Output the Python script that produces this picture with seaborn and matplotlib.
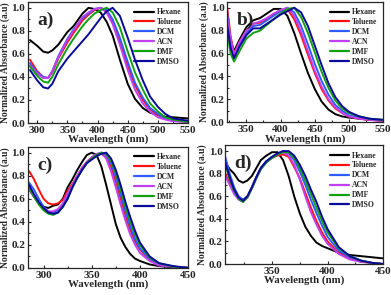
import pandas as pd
import seaborn as sns
import matplotlib.pyplot as plt
from matplotlib.ticker import MultipleLocator

solvents = ['Hexane', 'Toluene', 'DCM', 'ACN', 'DMF', 'DMSO']
colors = ['#000000', '#ff1010', '#2f5cff', '#c040f0', '#10a010', '#0a0a9a']

# panel a
wl_a = [288, 300, 310, 318, 325, 335, 350, 360, 375, 385, 395, 405, 415, 425, 437, 450, 462, 475, 487, 500, 512, 525, 550]
hexane_a = [0.72, 0.67, 0.62, 0.61, 0.63, 0.68, 0.79, 0.84, 0.95, 1.0, 0.99, 0.96, 0.88, 0.76, 0.55, 0.34, 0.21, 0.13, 0.09, 0.07, 0.055, 0.05, 0.04]
toluene_a = [0.55, 0.45, 0.40, 0.39, 0.44, 0.56, 0.70, 0.78, 0.89, 0.94, 0.98, 1.0, 0.97, 0.88, 0.71, 0.50, 0.33, 0.20, 0.12, 0.07, 0.04, 0.02, 0.01]
dcm_a = [0.52, 0.44, 0.40, 0.39, 0.45, 0.58, 0.73, 0.81, 0.91, 0.95, 0.99, 1.0, 0.98, 0.90, 0.74, 0.53, 0.35, 0.22, 0.13, 0.08, 0.04, 0.025, 0.01]
acn_a = [0.50, 0.43, 0.39, 0.39, 0.45, 0.57, 0.72, 0.80, 0.92, 0.96, 0.99, 1.0, 0.96, 0.86, 0.68, 0.46, 0.29, 0.17, 0.10, 0.05, 0.03, 0.015, 0.01]
dmf_a = [0.49, 0.41, 0.36, 0.35, 0.40, 0.51, 0.65, 0.73, 0.84, 0.90, 0.95, 0.98, 1.0, 0.96, 0.83, 0.62, 0.44, 0.29, 0.17, 0.10, 0.05, 0.03, 0.01]
dmso_a = [0.46, 0.37, 0.31, 0.30, 0.34, 0.45, 0.56, 0.62, 0.71, 0.77, 0.84, 0.91, 0.97, 1.0, 0.93, 0.74, 0.55, 0.37, 0.23, 0.14, 0.08, 0.04, 0.02]

# panel b
wl_b = [322, 327, 332, 340, 350, 360, 370, 380, 390, 400, 410, 420, 430, 440, 450, 460, 470, 480, 490, 500, 515, 530, 550]
hexane_b = [0.90, 0.72, 0.62, 0.72, 0.83, 0.89, 0.91, 0.95, 0.99, 0.99, 0.93, 0.78, 0.60, 0.43, 0.29, 0.18, 0.11, 0.07, 0.05, 0.04, 0.03, 0.02, 0.015]
toluene_b = [1.0, 0.75, 0.60, 0.70, 0.80, 0.86, 0.87, 0.90, 0.94, 0.98, 0.99, 0.90, 0.76, 0.59, 0.43, 0.29, 0.19, 0.12, 0.08, 0.05, 0.03, 0.02, 0.01]
dcm_b = [0.95, 0.72, 0.58, 0.68, 0.78, 0.84, 0.85, 0.89, 0.93, 0.97, 1.0, 0.96, 0.84, 0.68, 0.51, 0.36, 0.24, 0.15, 0.10, 0.06, 0.04, 0.025, 0.015]
acn_b = [0.92, 0.73, 0.59, 0.70, 0.80, 0.86, 0.88, 0.91, 0.95, 0.98, 1.0, 0.93, 0.79, 0.62, 0.45, 0.31, 0.20, 0.13, 0.08, 0.05, 0.03, 0.02, 0.01]
dmf_b = [0.80, 0.60, 0.53, 0.62, 0.73, 0.78, 0.80, 0.85, 0.90, 0.95, 0.99, 1.0, 0.92, 0.78, 0.61, 0.44, 0.30, 0.19, 0.12, 0.08, 0.05, 0.03, 0.02]
dmso_b = [0.85, 0.65, 0.56, 0.66, 0.76, 0.82, 0.82, 0.86, 0.90, 0.94, 0.97, 1.0, 0.96, 0.84, 0.67, 0.50, 0.34, 0.22, 0.14, 0.09, 0.05, 0.03, 0.02]

# panel c
wl_c = [285, 290, 295, 300, 305, 310, 315, 320, 325, 330, 335, 340, 345, 350, 355, 360, 365, 370, 375, 380, 385, 390, 395, 400, 410, 420, 435, 450]
hexane_c = [0.68, 0.62, 0.56, 0.53, 0.52, 0.54, 0.55, 0.60, 0.70, 0.77, 0.85, 0.92, 0.98, 1.0, 0.98, 0.88, 0.72, 0.55, 0.38, 0.26, 0.18, 0.12, 0.08, 0.06, 0.03, 0.015, 0.005, 0.0]
toluene_c = [0.84, 0.77, 0.68, 0.60, 0.56, 0.55, 0.56, 0.59, 0.67, 0.73, 0.80, 0.87, 0.92, 0.96, 0.98, 0.99, 0.96, 0.88, 0.75, 0.60, 0.45, 0.33, 0.23, 0.16, 0.07, 0.03, 0.01, 0.0]
dcm_c = [0.74, 0.68, 0.60, 0.53, 0.49, 0.48, 0.50, 0.55, 0.62, 0.71, 0.79, 0.86, 0.92, 0.95, 0.98, 1.0, 0.98, 0.91, 0.79, 0.64, 0.49, 0.36, 0.25, 0.17, 0.08, 0.03, 0.01, 0.0]
acn_c = [0.68, 0.62, 0.56, 0.52, 0.49, 0.49, 0.51, 0.56, 0.65, 0.72, 0.80, 0.87, 0.92, 0.96, 0.99, 1.0, 0.95, 0.84, 0.70, 0.55, 0.41, 0.29, 0.20, 0.13, 0.06, 0.02, 0.01, 0.0]
dmf_c = [0.70, 0.62, 0.55, 0.50, 0.47, 0.46, 0.48, 0.53, 0.60, 0.70, 0.78, 0.85, 0.91, 0.95, 0.98, 1.0, 0.99, 0.93, 0.82, 0.68, 0.53, 0.40, 0.29, 0.20, 0.09, 0.04, 0.01, 0.0]
dmso_c = [0.72, 0.64, 0.57, 0.52, 0.48, 0.47, 0.48, 0.53, 0.60, 0.70, 0.78, 0.85, 0.91, 0.94, 0.97, 0.99, 1.0, 0.95, 0.85, 0.72, 0.57, 0.44, 0.32, 0.22, 0.10, 0.04, 0.015, 0.0]

# panel d
wl_d = [308, 312, 316, 320, 324, 328, 332, 336, 340, 345, 350, 355, 360, 365, 370, 375, 380, 385, 390, 395, 400, 410, 420, 430, 440, 450]
hexane_d = [0.90, 0.84, 0.80, 0.74, 0.72, 0.74, 0.78, 0.85, 0.92, 0.96, 0.99, 0.99, 0.92, 0.78, 0.60, 0.45, 0.33, 0.25, 0.19, 0.16, 0.14, 0.10, 0.08, 0.07, 0.06, 0.05]
toluene_d = [0.80, 0.72, 0.64, 0.58, 0.56, 0.60, 0.68, 0.77, 0.85, 0.91, 0.94, 0.96, 0.97, 0.95, 0.86, 0.76, 0.63, 0.50, 0.38, 0.28, 0.20, 0.10, 0.05, 0.02, 0.01, 0.0]
dcm_d = [0.95, 0.80, 0.68, 0.60, 0.57, 0.60, 0.68, 0.77, 0.85, 0.91, 0.94, 0.97, 1.0, 0.98, 0.92, 0.82, 0.70, 0.57, 0.45, 0.34, 0.24, 0.12, 0.06, 0.03, 0.01, 0.0]
acn_d = [0.78, 0.70, 0.62, 0.57, 0.55, 0.59, 0.67, 0.76, 0.84, 0.90, 0.94, 0.97, 0.99, 0.96, 0.88, 0.75, 0.60, 0.46, 0.35, 0.25, 0.18, 0.09, 0.04, 0.02, 0.01, 0.0]
dmf_d = [0.88, 0.75, 0.65, 0.58, 0.55, 0.59, 0.67, 0.76, 0.84, 0.90, 0.94, 0.97, 0.99, 0.99, 0.94, 0.85, 0.74, 0.62, 0.50, 0.38, 0.28, 0.14, 0.07, 0.03, 0.01, 0.0]
dmso_d = [0.90, 0.77, 0.66, 0.59, 0.56, 0.60, 0.68, 0.77, 0.85, 0.91, 0.95, 0.98, 1.0, 1.0, 0.96, 0.88, 0.78, 0.66, 0.55, 0.42, 0.31, 0.15, 0.07, 0.03, 0.01, 0.0]

panels = [
	('a)', wl_a, [hexane_a, toluene_a, dcm_a, acn_a, dmf_a, dmso_a], (285, 550), [0.072, 0.583, 0.409, 0.41]),
	('b)', wl_b, [hexane_b, toluene_b, dcm_b, acn_b, dmf_b, dmso_b], (322, 550), [0.581, 0.586, 0.399, 0.407]),
	('c)', wl_c, [hexane_c, toluene_c, dcm_c, acn_c, dmf_c, dmso_c], (284, 450), [0.072, 0.092, 0.409, 0.41]),
	('d)', wl_d, [hexane_d, toluene_d, dcm_d, acn_d, dmf_d, dmso_d], (308, 450), [0.576, 0.105, 0.404, 0.402]),
]


def long_df(wl, series):
	rows = []
	for name, vals in zip(solvents, series):
		for w, v in zip(wl, vals):
			rows.append({'wl': w, 'abs': v, 'solvent': name})
	return pd.DataFrame(rows)


sns.set_style('ticks')
plt.rcParams['font.family'] = ['Liberation Serif', 'DejaVu Serif']
plt.rcParams['font.weight'] = 'bold'

fig = plt.figure(figsize=(3.91, 2.95), dpi=100)

for tag, wl, series, xlim, pos in panels:
	ax = fig.add_axes(pos)
	df = long_df(wl, series)
	sns.lineplot(data=df, x='wl', y='abs', hue='solvent', palette=colors, hue_order=solvents,
				 linewidth=1.4, sort=False, ax=ax)
	ax.set_xlim(*xlim)
	ax.set_ylim(0, 1.05)
	ax.xaxis.set_major_locator(MultipleLocator(50))
	ax.xaxis.set_minor_locator(MultipleLocator(25))
	ax.yaxis.set_major_locator(MultipleLocator(0.2))
	ax.yaxis.set_minor_locator(MultipleLocator(0.1))
	ax.tick_params(which='both', direction='in', labelsize=8, length=2.5, width=0.8, pad=2)
	ax.tick_params(which='minor', length=1.5)
	for lab in ax.get_xticklabels() + ax.get_yticklabels():
		lab.set_fontweight('bold')
	for sp in ax.spines.values():
		sp.set_linewidth(0.9)
	ax.set_xlabel('Wavelength (nm)', fontsize=7.8, fontweight='bold', labelpad=0)
	ax.set_ylabel('Normalized Absorbance (a.u)', fontsize=6.9, fontweight='bold', labelpad=1)
	ax.text(0.06, 0.85, tag, transform=ax.transAxes, fontsize=14, fontweight='bold', va='center')
	leg = ax.legend(loc='upper right', frameon=False, fontsize=5.5, handlelength=2.6,
					labelspacing=0.25, borderaxespad=0.4, handletextpad=0.3)
	for line in leg.get_lines():
		line.set_linewidth(1.6)
	for t in leg.get_texts():
		t.set_fontweight('bold')

fig.savefig('out.png', dpi=100)
